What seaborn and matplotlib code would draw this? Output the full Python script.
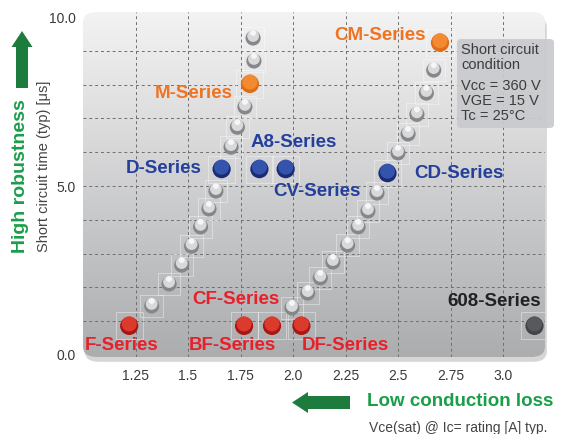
import numpy as np
import pandas as pd
import matplotlib.pyplot as plt
import seaborn as sns
from matplotlib.patches import FancyBboxPatch, FancyArrow
from matplotlib.colors import LinearSegmentedColormap

# Data
left_curve_x = [1.327, 1.41, 1.47, 1.517, 1.56, 1.60, 1.633, 1.705, 1.735, 1.771, 1.814, 1.81]
left_curve_y = [1.45, 2.10, 2.66, 3.22, 3.79, 4.32, 4.85, 6.15, 6.74, 7.34, 8.70, 9.38]
right_curve_x = [1.995, 2.07, 2.13, 2.19, 2.26, 2.31, 2.357, 2.40, 2.50, 2.548, 2.59, 2.635, 2.67]
right_curve_y = [1.39, 1.83, 2.28, 2.75, 3.25, 3.79, 4.26, 4.79, 5.98, 6.54, 7.12, 7.75, 8.43]

series_names = ["M-Series", "CM-Series", "D-Series", "A8-Series", "CV-Series", "CD-Series",
                "F-Series", "BF-Series", "CF-Series", "DF-Series", "608-Series"]
series_vce = [1.795, 2.70, 1.66, 1.84, 1.965, 2.45, 1.22, 1.767, 1.90, 2.04, 3.15]
series_tsc = [8.02, 9.24, 5.5, 5.5, 5.5, 5.38, 0.86, 0.86, 0.86, 0.86, 0.86]
series_group = ["orange", "orange", "blue", "blue", "blue", "blue",
                "red", "red", "red", "red", "dark"]

xtick_vals = [1.25, 1.5, 1.75, 2.0, 2.25, 2.5, 2.75, 3.0]
xtick_labels = ["1.25", "1.5", "1.75", "2.0", "2.25", "2.5", "2.75", "3.0"]
ytick_vals = [0, 5, 10]
ytick_labels = ["0.0", "5.0", "10.0"]

# styling
ball_base = {"gray": "#86878a", "orange": "#e06c17", "blue": "#1a2b72",
             "red": "#a81616", "dark": "#434447"}
ball_light = {"gray": "#d8d9db", "orange": "#f28a32", "blue": "#3353ad",
              "red": "#dd3a2e", "dark": "#58595c"}
text_color = {"orange": "#ef7421", "blue": "#24409c", "red": "#e8202a", "dark": "#222222"}
# label anchor (x, y, ha) in data coords
label_pos = {
    "M-Series": (1.715, 7.75, "right"), "CM-Series": (2.633, 9.44, "right"),
    "D-Series": (1.567, 5.53, "right"), "A8-Series": (1.80, 6.28, "left"),
    "CV-Series": (1.905, 4.85, "left"), "CD-Series": (2.576, 5.38, "left"),
    "F-Series": (1.01, 0.27, "left"), "BF-Series": (1.505, 0.27, "left"),
    "CF-Series": (1.519, 1.63, "left"), "DF-Series": (2.04, 0.27, "left"),
    "608-Series": (3.18, 1.57, "right"),
}

sns.set_style("white")
plt.rcParams['font.family'] = ['Liberation Sans', 'DejaVu Sans']

W, H = 566, 434
fig = plt.figure(figsize=(W / 100, H / 100), dpi=100)
ax = fig.add_axes([83 / W, 77 / H, 462 / W, 345 / H])
ax.set_xlim(1.0, 3.2)
ax.set_ylim(-0.06, 10.15)
ax.patch.set_visible(False)

# soft shadow under the plot panel
shadow = FancyBboxPatch((0.004, -0.014), 1, 1, boxstyle="round,pad=0,rounding_size=0.03",
                        transform=ax.transAxes, fc="#d6d6d7", ec="none", zorder=-1,
                        clip_on=False)
ax.add_patch(shadow)

# gradient background with rounded corners
cmap = LinearSegmentedColormap.from_list("bg", ["#acadaf", "#c3c4c6", "#dcdcdd", "#f3f3f4"])
grad = np.linspace(0, 1, 256).reshape(-1, 1)
im = ax.imshow(grad, extent=[1.0, 3.2, -0.06, 10.15], origin="lower", aspect="auto",
               cmap=cmap, zorder=0)
clip = FancyBboxPatch((0, 0), 1, 1, boxstyle="round,pad=0,rounding_size=0.03",
                      transform=ax.transAxes, fc="none", ec="none")
ax.add_patch(clip)
im.set_clip_path(clip)

# dashed grid
for xv in xtick_vals:
    ax.axvline(xv, color="#6e6e6e", lw=0.7, ls=(0, (3, 3)), zorder=1)
for yv in range(1, 10):
    ax.axhline(yv, color="#6e6e6e", lw=0.7, ls=(0, (3, 3)), zorder=1)

gray_df = pd.DataFrame({"x": left_curve_x + right_curve_x,
                        "y": left_curve_y + right_curve_y})
ser_df = pd.DataFrame({"name": series_names, "x": series_vce, "y": series_tsc,
                       "group": series_group})

# faint square frames behind the balls
ax.scatter(gray_df["x"], gray_df["y"], marker="s", s=260, facecolors="none",
           edgecolors="white", linewidths=0.6, alpha=0.45, zorder=2)
ax.scatter(ser_df["x"], ser_df["y"], marker="s", s=380, facecolors="none",
           edgecolors="white", linewidths=0.6, alpha=0.45, zorder=2)

# balls: darker base with lighter highlight shifted up
lift = 0.06
sns.scatterplot(data=gray_df, x="x", y="y", color=ball_base["gray"], s=118,
                edgecolor="none", ax=ax, zorder=3, legend=False)
sns.scatterplot(x=gray_df["x"], y=gray_df["y"] + lift, color=ball_light["gray"], s=72,
                edgecolor="none", ax=ax, zorder=4, legend=False)
sns.scatterplot(x=gray_df["x"], y=gray_df["y"] + 2.5 * lift, color="#f6f6f7", s=18,
                edgecolor="none", ax=ax, zorder=4, legend=False)
for grp, sub in ser_df.groupby("group"):
    sns.scatterplot(data=sub, x="x", y="y", color=ball_base[grp], s=172,
                    edgecolor="none", ax=ax, zorder=3, legend=False)
    sns.scatterplot(x=sub["x"], y=sub["y"] + lift, color=ball_light[grp], s=118,
                    edgecolor="none", ax=ax, zorder=4, legend=False)

for name, grp in zip(series_names, series_group):
    lx, ly, ha = label_pos[name]
    ax.text(lx, ly, name, ha=ha, va="center", fontsize=13.5, fontweight="bold",
            color=text_color[grp], zorder=5)

ax.set_xticks(xtick_vals)
ax.set_xticklabels(xtick_labels)
ax.set_yticks(ytick_vals)
ax.set_yticklabels(ytick_labels)
ax.tick_params(length=0, labelsize=10, colors="#3a3a3a")
ax.tick_params(axis="x", pad=9)
ax.tick_params(axis="y", pad=5)
ax.set_xlabel("")
ax.set_ylabel("")
for s in ax.spines.values():
    s.set_visible(False)

# y-axis title and robustness annotation
fig.text(44 / W, 1 - 166 / H, "Short circuit time (typ) [\u03bcs]", rotation=90,
         ha="center", va="center", fontsize=10.5, color="#444444")
fig.text(21 / W, 1 - 176 / H, "High robustness", rotation=90, ha="center", va="center",
         fontsize=14, fontweight="bold", color="#1a9e4a")
fig.patches.append(FancyArrow(22 / 100, (H - 88) / 100, 0, 0.57, width=0.12,
                              head_width=0.21, head_length=0.16, length_includes_head=True,
                              transform=fig.dpi_scale_trans, color="#1d7b3d", lw=0))

# x-axis annotation
fig.patches.append(FancyArrow(350 / 100, (H - 402.5) / 100, -0.58, 0, width=0.13,
                              head_width=0.21, head_length=0.16, length_includes_head=True,
                              transform=fig.dpi_scale_trans, color="#1d7b3d", lw=0))
fig.text(553 / W, 1 - 402 / H, "Low conduction loss", ha="right", va="center",
         fontsize=13.5, fontweight="bold", color="#1a9e4a")
fig.text(547 / W, 1 - 428 / H, "Vce(sat) @ Ic= rating [A] typ.", ha="right", va="center",
         fontsize=10, color="#444444")

# short-circuit condition box
box = FancyBboxPatch((457 / W, 1 - 128 / H), 97 / W, 89 / H,
                     boxstyle="round,pad=0,rounding_size=0.008", transform=fig.transFigure,
                     fc="#c9cacd", ec="none", alpha=0.92, zorder=6)
fig.patches.append(box)
fig.text(461 / W, 1 - 43 / H, "Short circuit\ncondition", ha="left", va="top",
         fontsize=10.5, color="#3c3c3c", linespacing=1.05, zorder=7)
fig.text(461 / W, 1 - 79 / H, "Vcc = 360 V\nVGE = 15 V\nTc = 25\u00b0C", ha="left", va="top",
         fontsize=10.5, color="#3c3c3c", linespacing=1.08, zorder=7)

fig.savefig("out.png", dpi=100)
